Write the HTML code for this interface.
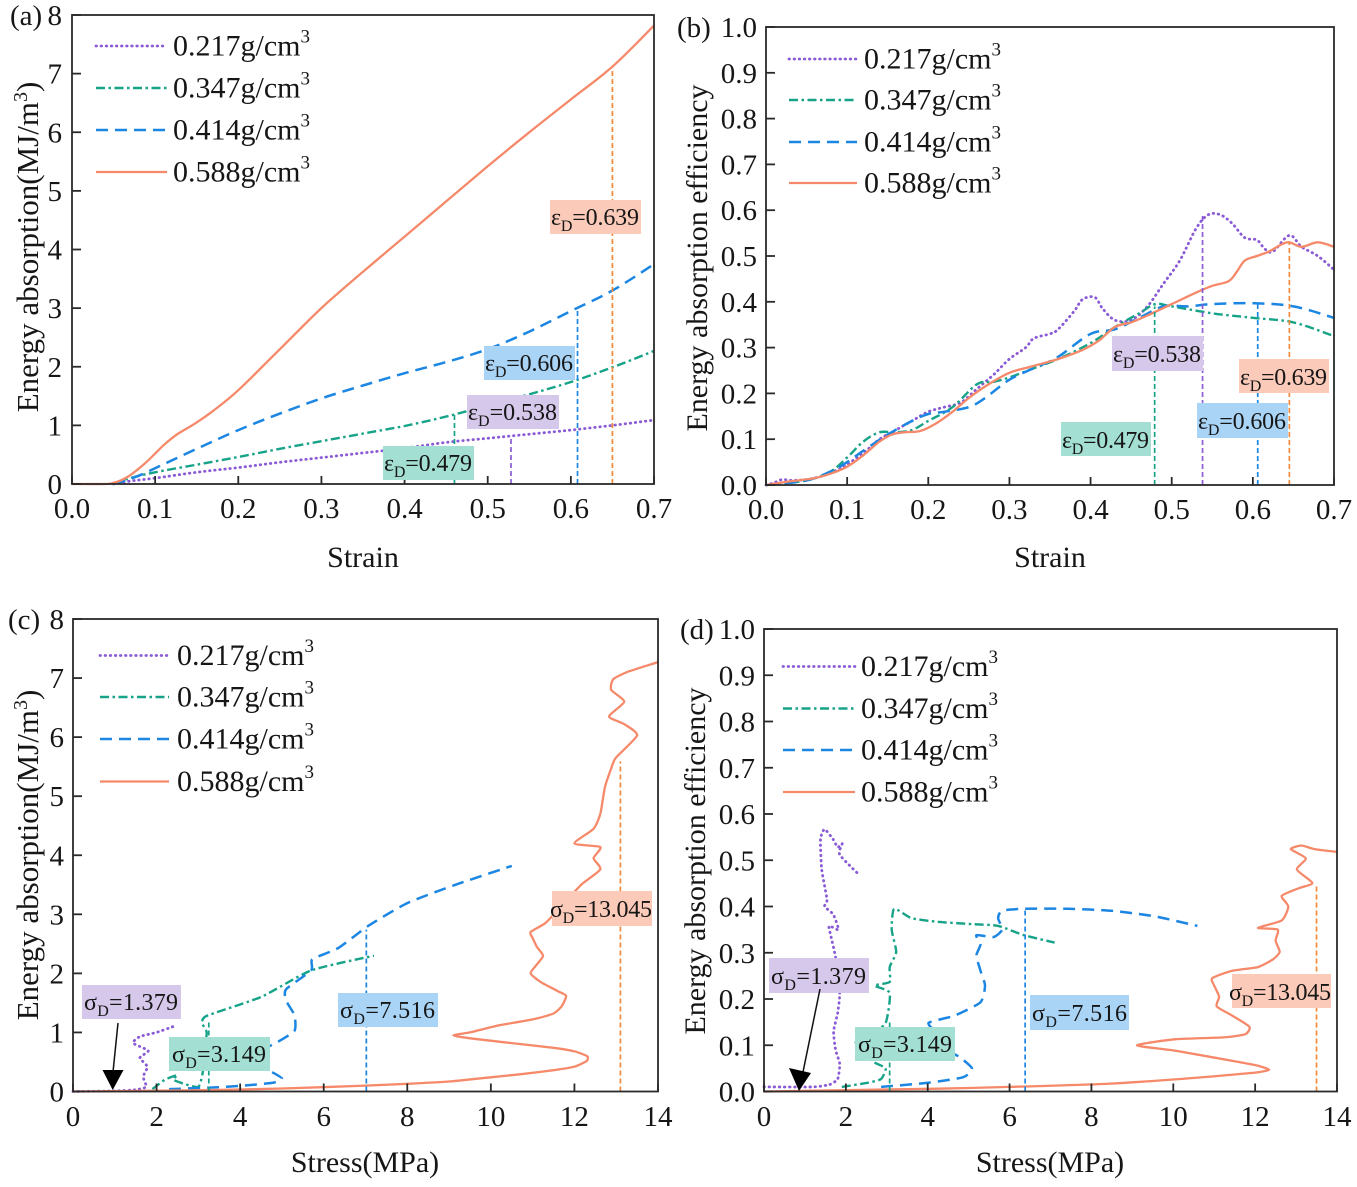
<!DOCTYPE html>
<html><head><meta charset="utf-8"><style>
html,body{margin:0;padding:0;background:#fff;}
svg{display:block;font-family:"Liberation Serif",serif;}
text{fill:#161616;}
</style></head><body>
<svg id="s" width="1357" height="1187" viewBox="0 0 1357 1187" xmlns="http://www.w3.org/2000/svg">
<rect width="1357" height="1187" fill="#fff"/>
<g id="curves"></g>
<g id="frames" fill="none" stroke="#2a2a2a" stroke-width="1.8">
<rect x="72" y="15" width="582" height="469"/>
<rect x="766" y="27" width="568" height="458"/>
<rect x="73" y="619" width="585" height="472.5"/>
<rect x="764" y="629" width="573" height="462.5"/>
</g>

<!-- label boxes -->
<g font-size="24">
<rect x="550" y="200" width="91" height="34" fill="#fbcab9"/>
<text x="551" y="225" textLength="88">ε<tspan font-size="16" dy="6">D</tspan><tspan dy="-6">=0.639</tspan></text>
<rect x="484" y="346" width="91" height="34" fill="#a9d4f6"/>
<text x="485" y="371" textLength="88">ε<tspan font-size="16" dy="6">D</tspan><tspan dy="-6">=0.606</tspan></text>
<rect x="467" y="395" width="92" height="34" fill="#d6c8ea"/>
<text x="468" y="420" textLength="89">ε<tspan font-size="16" dy="6">D</tspan><tspan dy="-6">=0.538</tspan></text>
<rect x="383" y="446" width="91" height="34" fill="#a3e0d3"/>
<text x="384" y="471" textLength="88">ε<tspan font-size="16" dy="6">D</tspan><tspan dy="-6">=0.479</tspan></text>

<rect x="1112" y="336" width="91" height="35" fill="#d6c8ea"/>
<text x="1113" y="362" textLength="88">ε<tspan font-size="16" dy="6">D</tspan><tspan dy="-6">=0.538</tspan></text>
<rect x="1239" y="359" width="90" height="34" fill="#fbcab9"/>
<text x="1240" y="385" textLength="87">ε<tspan font-size="16" dy="6">D</tspan><tspan dy="-6">=0.639</tspan></text>
<rect x="1197" y="403" width="91" height="35" fill="#a9d4f6"/>
<text x="1198" y="429" textLength="88">ε<tspan font-size="16" dy="6">D</tspan><tspan dy="-6">=0.606</tspan></text>
<rect x="1061" y="422" width="90" height="34" fill="#a3e0d3"/>
<text x="1062" y="448" textLength="87">ε<tspan font-size="16" dy="6">D</tspan><tspan dy="-6">=0.479</tspan></text>

<rect x="82" y="985" width="99" height="34" fill="#d6c8ea"/>
<text x="84" y="1010" textLength="94">σ<tspan font-size="16" dy="6">D</tspan><tspan dy="-6">=1.379</tspan></text>
<rect x="169" y="1037" width="101" height="34" fill="#a3e0d3"/>
<text x="172" y="1062" textLength="94">σ<tspan font-size="16" dy="6">D</tspan><tspan dy="-6">=3.149</tspan></text>
<rect x="338" y="993" width="100" height="34" fill="#a9d4f6"/>
<text x="340" y="1018" textLength="95">σ<tspan font-size="16" dy="6">D</tspan><tspan dy="-6">=7.516</tspan></text>
<rect x="552" y="891" width="100" height="35" fill="#fbcab9"/>
<text x="550" y="917" textLength="102">σ<tspan font-size="16" dy="6">D</tspan><tspan dy="-6">=13.045</tspan></text>

<rect x="769" y="958" width="100" height="35" fill="#d6c8ea"/>
<text x="771" y="984" textLength="95">σ<tspan font-size="16" dy="6">D</tspan><tspan dy="-6">=1.379</tspan></text>
<rect x="855" y="1027" width="100" height="34" fill="#a3e0d3"/>
<text x="858" y="1052" textLength="94">σ<tspan font-size="16" dy="6">D</tspan><tspan dy="-6">=3.149</tspan></text>
<rect x="1030" y="995" width="99" height="35" fill="#a9d4f6"/>
<text x="1032" y="1021" textLength="95">σ<tspan font-size="16" dy="6">D</tspan><tspan dy="-6">=7.516</tspan></text>
<rect x="1232" y="974" width="99" height="34" fill="#fbcab9"/>
<text x="1229" y="1000" textLength="102">σ<tspan font-size="16" dy="6">D</tspan><tspan dy="-6">=13.045</tspan></text>
</g>

<!-- arrows -->
<g stroke="#111" stroke-width="1.5">
<line x1="118" y1="1023" x2="113" y2="1072"/>
<line x1="820" y1="989" x2="803" y2="1072"/>
</g>
<polygon points="102.5,1070 123.5,1070 112.7,1090" fill="#000"/>
<polygon points="789,1068 811,1073 799,1091" fill="#000"/>

<!-- tick labels -->
<g font-size="29" text-anchor="middle">
<text x="72" y="518">0.0</text><text x="155.1" y="518">0.1</text><text x="238.3" y="518">0.2</text><text x="321.4" y="518">0.3</text><text x="404.6" y="518">0.4</text><text x="487.7" y="518">0.5</text><text x="570.9" y="518">0.6</text><text x="654" y="518">0.7</text>
<text x="766" y="519">0.0</text><text x="847.1" y="519">0.1</text><text x="928.3" y="519">0.2</text><text x="1009.4" y="519">0.3</text><text x="1090.6" y="519">0.4</text><text x="1171.7" y="519">0.5</text><text x="1252.9" y="519">0.6</text><text x="1334" y="519">0.7</text>
<text x="73" y="1126">0</text><text x="156.6" y="1126">2</text><text x="240.1" y="1126">4</text><text x="323.7" y="1126">6</text><text x="407.3" y="1126">8</text><text x="490.9" y="1126">10</text><text x="574.4" y="1126">12</text><text x="658" y="1126">14</text>
<text x="764" y="1126">0</text><text x="845.9" y="1126">2</text><text x="927.7" y="1126">4</text><text x="1009.6" y="1126">6</text><text x="1091.4" y="1126">8</text><text x="1173.3" y="1126">10</text><text x="1255.1" y="1126">12</text><text x="1337" y="1126">14</text>
</g>
<g font-size="29" text-anchor="end">
<text x="62" y="494">0</text><text x="62" y="435.4">1</text><text x="62" y="376.8">2</text><text x="62" y="318.1">3</text><text x="62" y="259.5">4</text><text x="62" y="200.9">5</text><text x="62" y="142.3">6</text><text x="62" y="83.6">7</text><text x="62" y="25">8</text>
<text x="757" y="495">0.0</text><text x="757" y="449.2">0.1</text><text x="757" y="403.4">0.2</text><text x="757" y="357.6">0.3</text><text x="757" y="311.8">0.4</text><text x="757" y="266">0.5</text><text x="757" y="220.2">0.6</text><text x="757" y="174.4">0.7</text><text x="757" y="128.6">0.8</text><text x="757" y="82.8">0.9</text><text x="757" y="37">1.0</text>
<text x="64" y="1101.5">0</text><text x="64" y="1042.4">1</text><text x="64" y="983.4">2</text><text x="64" y="924.3">3</text><text x="64" y="865.3">4</text><text x="64" y="806.2">5</text><text x="64" y="747.1">6</text><text x="64" y="688.1">7</text><text x="64" y="629">8</text>
<text x="755" y="1101.5">0.0</text><text x="755" y="1055.3">0.1</text><text x="755" y="1009">0.2</text><text x="755" y="962.8">0.3</text><text x="755" y="916.5">0.4</text><text x="755" y="870.3">0.5</text><text x="755" y="824">0.6</text><text x="755" y="777.8">0.7</text><text x="755" y="731.5">0.8</text><text x="755" y="685.3">0.9</text><text x="755" y="639">1.0</text>
</g>

<g font-size="29">
<text x="10" y="25">(a)</text>
<text x="677" y="37">(b)</text>
<text x="8" y="629">(c)</text>
<text x="680" y="639">(d)</text>
</g>

<g font-size="30" text-anchor="middle">
<text x="363" y="567">Strain</text>
<text x="1050" y="567">Strain</text>
<text x="365" y="1172">Stress(MPa)</text>
<text x="1050" y="1172">Stress(MPa)</text>
<text font-size="31" transform="translate(38,247) rotate(-90)">Energy absorption(MJ/m<tspan font-size="20" dy="-11">3</tspan><tspan dy="11">)</tspan></text>
<text transform="translate(707,258) rotate(-90)">Energy absorption efficiency</text>
<text font-size="31" transform="translate(38,855) rotate(-90)">Energy absorption(MJ/m<tspan font-size="20" dy="-11">3</tspan><tspan dy="11">)</tspan></text>
<text transform="translate(705,861) rotate(-90)">Energy absorption efficiency</text>
</g>

<g id="legendlines" fill="none" stroke-width="2.2"></g>
<g font-size="30">
<text x="173" y="55.5">0.217g/cm<tspan font-size="19" dy="-13">3</tspan></text>
<text x="173" y="97.5">0.347g/cm<tspan font-size="19" dy="-13">3</tspan></text>
<text x="173" y="139.5">0.414g/cm<tspan font-size="19" dy="-13">3</tspan></text>
<text x="173" y="181.5">0.588g/cm<tspan font-size="19" dy="-13">3</tspan></text>

<text x="864" y="68.5">0.217g/cm<tspan font-size="19" dy="-13">3</tspan></text>
<text x="864" y="109.5">0.347g/cm<tspan font-size="19" dy="-13">3</tspan></text>
<text x="864" y="151.5">0.414g/cm<tspan font-size="19" dy="-13">3</tspan></text>
<text x="864" y="192.5">0.588g/cm<tspan font-size="19" dy="-13">3</tspan></text>

<text x="177" y="665">0.217g/cm<tspan font-size="19" dy="-13">3</tspan></text>
<text x="177" y="706.5">0.347g/cm<tspan font-size="19" dy="-13">3</tspan></text>
<text x="177" y="748.5">0.414g/cm<tspan font-size="19" dy="-13">3</tspan></text>
<text x="177" y="791">0.588g/cm<tspan font-size="19" dy="-13">3</tspan></text>

<text x="861" y="676">0.217g/cm<tspan font-size="19" dy="-13">3</tspan></text>
<text x="861" y="718">0.347g/cm<tspan font-size="19" dy="-13">3</tspan></text>
<text x="861" y="759.5">0.414g/cm<tspan font-size="19" dy="-13">3</tspan></text>
<text x="861" y="801.5">0.588g/cm<tspan font-size="19" dy="-13">3</tspan></text>
</g>
</svg>
<script>
(function(){
var NS="http://www.w3.org/2000/svg";
var P={
A:{x0:72,x1:654,xm:0.7,y0:484,y1:15,ym:8},
B:{x0:766,x1:1334,xm:0.7,y0:485,y1:27,ym:1},
C:{x0:73,x1:658,xm:14,y0:1091.5,y1:619,ym:8},
D:{x0:764,x1:1337,xm:14,y0:1091.5,y1:629,ym:1}};
function px(p,x){return p.x0+(x/p.xm)*(p.x1-p.x0);}
function py(p,y){return p.y0-(y/p.ym)*(p.y0-p.y1);}
var COL={pu:"#8a5bd5",gr:"#16a388",bl:"#1c86e3",or:"#f5896a",orv:"#f08a3c"};
var STY={
pu:{c:COL.pu,d:"0.5 4.6",w:2.8,cap:"round"},
gr:{c:COL.gr,d:"9 3.5 2.5 3.5",w:2.4,cap:"butt"},
bl:{c:COL.bl,d:"12 7",w:2.5,cap:"butt"},
or:{c:COL.or,d:"",w:2.3,cap:"butt"}};
var g=document.getElementById("curves");
function el(tag,attrs,parent){var e=document.createElementNS(NS,tag);for(var k in attrs)e.setAttribute(k,attrs[k]);(parent||g).appendChild(e);return e;}
function spline(pts,t){
  t=t||0.5;
  var d="M"+pts[0][0].toFixed(1)+","+pts[0][1].toFixed(1);
  for(var i=0;i<pts.length-1;i++){
    var p0=pts[i>0?i-1:0],p1=pts[i],p2=pts[i+1],p3=pts[i+2<pts.length?i+2:i+1];
    var c1x=p1[0]+(p2[0]-p0[0])/6*t*2,c1y=p1[1]+(p2[1]-p0[1])/6*t*2;
    var c2x=p2[0]-(p3[0]-p1[0])/6*t*2,c2y=p2[1]-(p3[1]-p1[1])/6*t*2;
    d+="C"+c1x.toFixed(1)+","+c1y.toFixed(1)+" "+c2x.toFixed(1)+","+c2y.toFixed(1)+" "+p2[0].toFixed(1)+","+p2[1].toFixed(1);
  }
  return d;
}
function curve(pn,key,data,ten){
  var p=P[pn],s=STY[key];
  var pts=data.map(function(d){return [px(p,d[0]),py(p,d[1])];});
  var a={d:spline(pts,ten===undefined?0.5:ten),fill:"none",stroke:s.c,"stroke-width":s.w,"stroke-linejoin":"round","stroke-linecap":s.cap};
  if(s.d)a["stroke-dasharray"]=s.d;
  el("path",a);
}
function vline(pn,x,y,c){
  var p=P[pn];
  el("line",{x1:px(p,x),x2:px(p,x),y1:p.y0,y2:py(p,y),stroke:c,"stroke-width":1.7,"stroke-dasharray":"5 3"});
}
// Panel A
curve("A","pu",[[0.05,0],[0.07,0.05],[0.1,0.1],[0.15,0.2],[0.2,0.28],[0.25,0.37],[0.3,0.45],[0.35,0.53],[0.4,0.61],[0.45,0.71],[0.5,0.78],[0.55,0.85],[0.6,0.92],[0.65,1.0],[0.7,1.09]]);
curve("A","gr",[[0.05,0],[0.07,0.1],[0.1,0.2],[0.15,0.33],[0.2,0.46],[0.25,0.6],[0.3,0.73],[0.35,0.86],[0.4,0.99],[0.45,1.15],[0.5,1.34],[0.55,1.53],[0.6,1.74],[0.65,1.99],[0.7,2.27]]);
curve("A","bl",[[0.05,0],[0.06,0.04],[0.08,0.14],[0.1,0.27],[0.15,0.6],[0.2,0.92],[0.25,1.2],[0.3,1.46],[0.35,1.68],[0.4,1.89],[0.45,2.08],[0.5,2.3],[0.55,2.6],[0.6,2.95],[0.65,3.3],[0.7,3.75]]);
curve("A","or",[[0,0],[0.04,0],[0.05,0.02],[0.06,0.07],[0.07,0.15],[0.08,0.26],[0.09,0.38],[0.1,0.52],[0.11,0.66],[0.12,0.78],[0.13,0.88],[0.15,1.05],[0.17,1.25],[0.2,1.6],[0.25,2.3],[0.3,3.0],[0.35,3.62],[0.4,4.22],[0.45,4.82],[0.5,5.42],[0.55,6.0],[0.6,6.56],[0.65,7.12],[0.7,7.82]]);
vline("A",0.46,1.2,COL.gr);vline("A",0.528,0.8,COL.pu);vline("A",0.608,2.97,COL.bl);vline("A",0.65,7.1,COL.orv);
// Panel B
curve("B","pu",[[0,0],[0.01,0.005],[0.02,0.012],[0.03,0.01],[0.05,0.012],[0.07,0.02],[0.09,0.035],[0.1,0.045],[0.12,0.07],[0.14,0.1],[0.16,0.12],[0.18,0.14],[0.2,0.16],[0.22,0.17],[0.24,0.18],[0.26,0.21],[0.28,0.24],[0.3,0.275],[0.32,0.3],[0.33,0.32],[0.35,0.33],[0.36,0.34],[0.38,0.38],[0.39,0.405],[0.405,0.41],[0.415,0.385],[0.43,0.36],[0.45,0.36],[0.47,0.39],[0.49,0.44],[0.51,0.49],[0.53,0.56],[0.545,0.59],[0.56,0.59],[0.575,0.57],[0.59,0.54],[0.605,0.535],[0.615,0.515],[0.625,0.51],[0.645,0.545],[0.66,0.52],[0.68,0.5],[0.7,0.47]]);
curve("B","gr",[[0,0],[0.05,0.01],[0.08,0.03],[0.1,0.06],[0.12,0.095],[0.14,0.115],[0.16,0.115],[0.18,0.12],[0.2,0.14],[0.23,0.17],[0.26,0.22],[0.28,0.225],[0.3,0.235],[0.33,0.255],[0.36,0.275],[0.4,0.31],[0.43,0.345],[0.46,0.375],[0.48,0.395],[0.5,0.39],[0.55,0.375],[0.6,0.365],[0.65,0.355],[0.7,0.325]]);
curve("B","bl",[[0,0],[0.05,0.01],[0.08,0.03],[0.1,0.05],[0.12,0.075],[0.15,0.11],[0.18,0.14],[0.2,0.155],[0.22,0.16],[0.25,0.17],[0.27,0.19],[0.3,0.23],[0.33,0.255],[0.36,0.28],[0.4,0.33],[0.43,0.34],[0.46,0.365],[0.49,0.39],[0.52,0.39],[0.55,0.395],[0.6,0.397],[0.65,0.39],[0.7,0.365]]);
curve("B","or",[[0,0],[0.03,0.008],[0.06,0.015],[0.08,0.025],[0.1,0.04],[0.12,0.065],[0.14,0.095],[0.155,0.11],[0.17,0.115],[0.19,0.118],[0.21,0.135],[0.23,0.16],[0.25,0.19],[0.27,0.215],[0.3,0.245],[0.33,0.26],[0.36,0.275],[0.39,0.295],[0.41,0.315],[0.43,0.345],[0.45,0.355],[0.47,0.37],[0.5,0.395],[0.53,0.42],[0.55,0.435],[0.57,0.445],[0.58,0.465],[0.59,0.49],[0.605,0.5],[0.62,0.51],[0.635,0.525],[0.645,0.53],[0.66,0.52],[0.68,0.53],[0.7,0.52]]);
vline("B",0.479,0.39,COL.gr);vline("B",0.538,0.59,COL.pu);vline("B",0.606,0.397,COL.bl);vline("B",0.645,0.53,COL.orv);
// Panel C
curve("C","pu",[[0,0],[1.0,0.01],[1.5,0.03],[1.75,0.08],[1.68,0.25],[1.78,0.42],[1.6,0.57],[1.8,0.69],[1.44,0.82],[1.6,0.93],[2.0,1.0],[2.4,1.1]],0.3);
curve("C","gr",[[1.9,0.04],[2.2,0.2],[2.5,0.28],[2.4,0.2],[2.7,0.12],[3.0,0.08],[3.1,0.3],[3.15,0.7],[3.2,1.0],[3.1,1.15],[3.2,1.28],[4.5,1.6],[5.7,2.05],[7.2,2.3]],0.3);
curve("C","bl",[[2.3,0.04],[3.4,0.07],[4.1,0.1],[4.8,0.15],[5.0,0.22],[4.7,0.35],[4.2,0.48],[4.3,0.62],[4.9,0.84],[5.3,1.03],[5.3,1.29],[5.1,1.54],[5.1,1.73],[5.7,2.05],[5.73,2.24],[6.35,2.43],[7.06,2.8],[8.0,3.19],[9.15,3.5],[10.5,3.82]],0.3);
curve("C","or",[[0,0],[3,0.02],[5,0.05],[7,0.1],[8,0.13],[9,0.17],[10,0.24],[10.8,0.3],[11.5,0.36],[12,0.42],[12.3,0.52],[12.3,0.6],[12.0,0.68],[11.5,0.74],[10.5,0.82],[9.5,0.9],[9.1,0.95],[9.5,1.0],[10.2,1.12],[11.0,1.22],[11.5,1.32],[11.7,1.45],[11.8,1.62],[11.6,1.7],[11.2,1.85],[10.95,2.0],[11.1,2.15],[11.25,2.3],[11.1,2.45],[11.0,2.6],[10.95,2.7],[11.3,2.85],[11.64,3.1],[12.16,3.5],[12.62,3.76],[12.46,3.95],[12.62,4.14],[12.0,4.2],[12.46,4.45],[12.62,4.7],[12.73,5.15],[12.88,5.47],[12.99,5.65],[13.5,6.03],[13.19,6.22],[12.83,6.35],[13.19,6.6],[12.88,6.8],[12.93,6.98],[13.29,7.11],[14.0,7.27]],0.3);
vline("C",3.25,1.19,COL.gr);vline("C",7.02,2.74,COL.bl);vline("C",13.1,5.59,COL.orv);
// Panel D
curve("D","pu",[[0,0.01],[1.2,0.01],[1.6,0.015],[1.8,0.027],[1.85,0.06],[1.75,0.09],[1.7,0.13],[1.8,0.17],[1.85,0.21],[1.8,0.25],[1.75,0.29],[1.64,0.334],[1.59,0.358],[1.82,0.35],[1.69,0.383],[1.48,0.4],[1.54,0.415],[1.41,0.48],[1.38,0.545],[1.48,0.567],[1.69,0.545],[1.8,0.528],[1.91,0.536],[1.85,0.512],[2.33,0.468]],0.3);
curve("D","gr",[[1.9,0.01],[2.54,0.019],[2.86,0.027],[2.97,0.05],[2.7,0.063],[2.44,0.083],[2.22,0.104],[2.54,0.12],[2.97,0.148],[3.07,0.213],[2.7,0.229],[3.07,0.237],[3.07,0.269],[3.23,0.302],[3.12,0.35],[3.18,0.395],[3.6,0.375],[4.24,0.367],[5.08,0.362],[5.72,0.358],[6.35,0.338],[7.1,0.322]],0.3);
curve("D","bl",[[2.86,0.01],[4.02,0.019],[4.87,0.031],[5.08,0.05],[4.77,0.075],[4.45,0.091],[4.3,0.12],[4.02,0.148],[4.66,0.164],[5.29,0.193],[5.4,0.229],[5.29,0.261],[5.19,0.294],[5.29,0.318],[5.19,0.338],[5.61,0.334],[5.82,0.35],[5.72,0.375],[5.82,0.391],[6.35,0.395],[7.41,0.395],[8.47,0.391],[9.53,0.379],[10.59,0.358]],0.3);
curve("D","or",[[0,0],[2,0.003],[4.24,0.006],[6,0.01],[8.47,0.017],[10.6,0.03],[11.65,0.038],[12.1,0.042],[12.34,0.047],[12.1,0.055],[11.65,0.063],[10.06,0.088],[9.11,0.1],[10.06,0.113],[11.23,0.117],[11.76,0.124],[11.86,0.14],[11.44,0.164],[11.06,0.184],[11.12,0.205],[11.0,0.229],[10.95,0.245],[11.44,0.261],[12.07,0.269],[12.44,0.286],[12.6,0.302],[12.5,0.326],[12.55,0.35],[12.07,0.354],[12.65,0.37],[12.81,0.4],[12.65,0.423],[13.08,0.44],[13.4,0.451],[13.02,0.48],[13.24,0.504],[12.87,0.524],[13.13,0.532],[13.45,0.524],[14,0.518]],0.3);
vline("D",3.07,0.15,COL.gr);vline("D",6.38,0.395,COL.bl);vline("D",13.5,0.45,COL.orv);
// ticks
var fr=document.getElementById("frames");
function ticks(pn,xs,ys){
  var p=P[pn];
  xs.forEach(function(x){var X=px(p,x);el("line",{x1:X,x2:X,y1:p.y0,y2:p.y0-8},fr);});
  ys.forEach(function(y){var Y=py(p,y);el("line",{x1:p.x0,x2:p.x0+9,y1:Y,y2:Y},fr);});
}
function rng(a,b,s){var r=[];for(var v=a;v<=b+1e-9;v+=s)r.push(v);return r;}
ticks("A",rng(0,0.7,0.1),rng(0,8,1));
ticks("B",rng(0,0.7,0.1),rng(0,1,0.1));
ticks("C",rng(0,14,2),rng(0,8,1));
ticks("D",rng(0,14,2),rng(0,1,0.1));
// legend lines
var lg=document.getElementById("legendlines");
var keys=["pu","gr","bl","or"];
var L=[[96,167,[46,88,130,172]],[789,857,[59,100,142,183]],[100,169,[655.5,697,739,781.5]],[783,855,[666.5,708.5,750,792]]];
L.forEach(function(l){
  keys.forEach(function(k,i){
    var s=STY[k];
    var a={x1:l[0],x2:l[1],y1:l[2][i],y2:l[2][i],stroke:s.c,"stroke-width":s.w,"stroke-linecap":s.cap};
    if(s.d)a["stroke-dasharray"]=s.d;
    el("line",a,lg);
  });
});
})();
</script>
</body></html>
